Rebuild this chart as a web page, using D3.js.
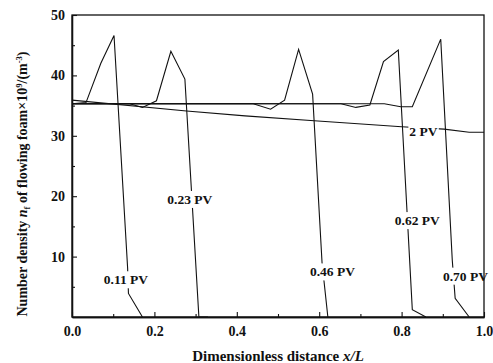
<!DOCTYPE html>
<html>
<head>
<meta charset="utf-8">
<script src="https://cdn.jsdelivr.net/npm/d3@7"></script>
<style>
  body { margin: 0; background: #fff; }
  svg text { font-family: "Liberation Serif", "Times New Roman", serif; font-weight: bold; fill: #111; }
</style>
</head>
<body>
<svg id="chart" width="493" height="363"></svg>
<script>
// curves, one per injected volume (x = x/L, y = n_f)
const pv011X = [0, 0.034, 0.07, 0.102, 0.135, 0.137, 0.171];
const pv011Y = [35.3, 35.5, 42.0, 46.6, 8.1, 3.9, 0];
const pv023X = [0, 0.14, 0.171, 0.205, 0.24, 0.274, 0.308, 0.33];
const pv023Y = [35.3, 35.3, 34.7, 35.8, 44.0, 39.4, 0, 0];
const pv046X = [0, 0.44, 0.482, 0.516, 0.55, 0.584, 0.607, 0.621];
const pv046Y = [35.3, 35.3, 34.4, 35.9, 44.3, 36.9, 8.9, 0];
const pv062X = [0, 0.653, 0.689, 0.723, 0.756, 0.792, 0.826, 0.859];
const pv062Y = [35.3, 35.3, 34.7, 35.1, 42.3, 44.2, 1.2, 0];
const pv070X = [0, 0.758, 0.798, 0.826, 0.895, 0.923, 0.93, 0.964];
const pv070Y = [35.3, 35.3, 34.8, 34.8, 46.0, 9.4, 3.1, 0];
const pv2X = [0, 0.278, 0.42, 0.588, 0.8, 0.903, 0.964, 1.0];
const pv2Y = [35.9, 34.1, 33.3, 32.5, 31.5, 31.1, 30.6, 30.6];

// label text and the point (x/L, n_f) where each label sits
const labelNames = ["0.11 PV", "0.23 PV", "0.46 PV", "0.62 PV", "0.70 PV", "2 PV"];
const labelX = [0.131, 0.286, 0.632, 0.838, 0.955, 0.853];
const labelY = [6.2, 19.5, 7.5, 16.0, 6.8, 30.7];

const xTicks = [0, 0.2, 0.4, 0.6, 0.8, 1.0];
const xMinor = [0.1, 0.3, 0.5, 0.7, 0.9];
const yTicks = [10, 20, 30, 40, 50];
const yMinor = [5, 15, 25, 35, 45];

const margin = { top: 15, right: 9, bottom: 46, left: 72 };
const svg = d3.select("#chart");
const width = 493 - margin.left - margin.right;
const height = 363 - margin.top - margin.bottom;

const g = svg.append("g").attr("transform", `translate(${margin.left},${margin.top})`);

const x = d3.scaleLinear().domain([0, 1]).range([0, width]);
const y = d3.scaleLinear().domain([0, 50]).range([height, 0]);

const line = d3.line().x(d => x(d[0])).y(d => y(d[1]));

const series = [
  [pv011X, pv011Y], [pv023X, pv023Y], [pv046X, pv046Y],
  [pv062X, pv062Y], [pv070X, pv070Y], [pv2X, pv2Y]
];

series.forEach(s => {
  g.append("path")
    .datum(s[0].map((v, i) => [v, s[1][i]]))
    .attr("d", line)
    .attr("fill", "none")
    .attr("stroke", "#111")
    .attr("stroke-width", 1.1);
});

// labels break the curves, so put a white box behind them
const labels = g.selectAll(".lbl")
  .data(labelNames)
  .enter()
  .append("g")
  .attr("class", "lbl")
  .attr("transform", (d, i) => `translate(${x(labelX[i])},${y(labelY[i])})`);

labels.append("text")
  .attr("text-anchor", "middle")
  .attr("dy", "0.35em")
  .attr("font-size", 13.5)
  .text(d => d);

labels.each(function() {
  const t = d3.select(this).select("text");
  const b = t.node().getBBox();
  d3.select(this).insert("rect", "text")
    .attr("x", b.x - 1).attr("y", b.y - 1)
    .attr("width", b.width + 2).attr("height", b.height + 2)
    .attr("fill", "#fff");
});

// frame
g.append("rect")
  .attr("width", width).attr("height", height)
  .attr("fill", "none").attr("stroke", "#111").attr("stroke-width", 1.3);

// axes, ticks point inward
g.append("g").attr("transform", `translate(0,${height})`)
  .call(d3.axisBottom(x).tickValues(xTicks).tickFormat(d3.format(".1f"))
    .tickSizeInner(-5).tickSizeOuter(0).tickPadding(9));
g.append("g").attr("transform", `translate(0,${height})`)
  .call(d3.axisBottom(x).tickValues(xMinor).tickFormat("").tickSizeInner(-3).tickSizeOuter(0));

g.append("g")
  .call(d3.axisLeft(y).tickValues(yTicks).tickSizeInner(-5).tickSizeOuter(0).tickPadding(7));
g.append("g")
  .call(d3.axisLeft(y).tickValues(yMinor).tickFormat("").tickSizeInner(-3).tickSizeOuter(0));

g.selectAll(".domain").attr("stroke", "#111").attr("stroke-width", 1.3);
g.selectAll(".tick line").attr("stroke", "#111").attr("stroke-width", 1.1);
g.selectAll(".tick text")
  .attr("font-family", "'Liberation Serif', 'Times New Roman', serif")
  .attr("font-weight", "bold")
  .attr("font-size", 14)
  .attr("fill", "#111");

// axis titles
const xt = svg.append("text")
  .attr("x", margin.left + width / 2)
  .attr("y", 361)
  .attr("text-anchor", "middle")
  .attr("font-size", 15);
xt.append("tspan").text("Dimensionless distance ");
xt.append("tspan").attr("font-style", "italic").text("x/L");

const yt = svg.append("text")
  .attr("transform", "translate(27,184) rotate(-90)")
  .attr("text-anchor", "middle")
  .attr("font-size", 14);
yt.append("tspan").text("Number density ");
yt.append("tspan").attr("font-style", "italic").text("n");
yt.append("tspan").attr("font-size", 8.5).attr("dy", 3).text("f");
yt.append("tspan").attr("dy", -3).text(" of flowing foam\u00d710");
yt.append("tspan").attr("font-size", 8.5).attr("dy", -5.5).text("9");
yt.append("tspan").attr("dy", 5.5).text("/(m");
yt.append("tspan").attr("font-size", 8.5).attr("dy", -5.5).text("-3");
yt.append("tspan").attr("dy", 5.5).text(")");
</script>
</body>
</html>
